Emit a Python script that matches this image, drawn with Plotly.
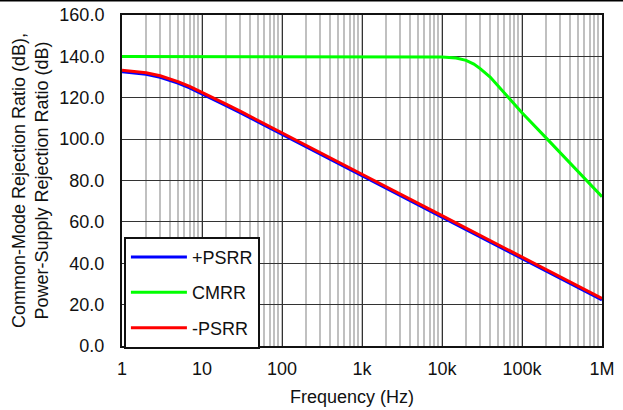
import plotly.graph_objects as go

# Frequency points (Hz)
psrr_freq = [1, 1.5, 2, 3, 4, 5, 7, 10, 15, 20, 30, 50, 100, 1e3, 1e4, 1e5, 1e6]
# Positive supply rejection (dB)
psrr_pos = [132.6, 132.1, 131.4, 129.9, 128.5, 127.1, 124.8, 122.0, 118.7, 116.2,
            112.8, 108.4, 102.3, 82.3, 62.3, 42.3, 22.3]
# Negative supply rejection (dB)
psrr_neg = [133.3, 132.8, 132.1, 130.6, 129.2, 127.8, 125.5, 122.7, 119.4, 116.9,
            113.5, 109.1, 103.0, 83.0, 63.0, 43.0, 23.0]

cmrr_freq = [1, 10, 100, 1e3, 5e3, 1e4, 1.5e4, 2e4, 2.5e4, 3e4, 4e4, 5e4, 6e4,
             7e4, 8e4, 1e5, 2e5, 5e5, 1e6]
cmrr_val = [140.0, 140.0, 140.0, 140.0, 140.0, 139.7, 139.2, 138.1, 136.3, 134.1,
            130.0, 125.7, 122.2, 119.2, 116.6, 112.7, 100.6, 84.6, 72.2]

x_tick_vals = [1, 10, 100, 1e3, 1e4, 1e5, 1e6]
x_tick_text = ["1", "10", "100", "1k", "10k", "100k", "1M"]
y_tick_vals = [0, 20, 40, 60, 80, 100, 120, 140, 160]

FONT = "Liberation Sans, Arial, sans-serif"
FS = 18

fig = go.Figure()
fig.add_trace(go.Scatter(x=psrr_freq, y=psrr_pos, mode="lines", name="+PSRR",
                         legendgroup="a", line=dict(color="#0000ff", width=3)))
fig.add_trace(go.Scatter(x=cmrr_freq, y=cmrr_val, mode="lines", name="CMRR",
                         legendgroup="b", line=dict(color="#00ff00", width=3)))
fig.add_trace(go.Scatter(x=psrr_freq, y=psrr_neg, mode="lines", name="-PSRR",
                         legendgroup="c", line=dict(color="#ff0000", width=3)))

fig.update_layout(
    width=623, height=410,
    margin=dict(l=122, r=21, t=15, b=64),
    paper_bgcolor="white", plot_bgcolor="white",
    font=dict(family=FONT, size=FS, color="#111"),
    showlegend=True,
    legend=dict(
        x=0.004, y=0.33, xanchor="left", yanchor="top",
        bgcolor="white", bordercolor="#111", borderwidth=2,
        traceorder="grouped", tracegroupgap=9,
        font=dict(family=FONT, size=FS, color="#111"),
        itemwidth=56,
    ),
    xaxis=dict(
        type="log", range=[0, 6], automargin=False,
        tickvals=x_tick_vals, ticktext=x_tick_text,
        showgrid=True, gridcolor="#333", gridwidth=1,
        minor=dict(dtick="D1", showgrid=True, gridcolor="#c0c0c0", gridwidth=2, ticks=""),
        showline=True, mirror=True, linecolor="#111", linewidth=2,
        ticks="", ticklabelstandoff=5,
        zeroline=False,
    ),
    yaxis=dict(
        range=[0, 160], tickvals=y_tick_vals, tickformat=".1f", automargin=False,
        showgrid=True, gridcolor="#333", gridwidth=1,
        showline=True, mirror=True, linecolor="#111", linewidth=2,
        ticks="", ticklabelstandoff=12,
        title=dict(text="Common-Mode Rejection Ratio (dB),<br>Power-Supply Rejection Ratio (dB)",
                   standoff=6, font=dict(size=FS)),
        zeroline=False,
    ),
    annotations=[dict(text="Frequency (Hz)", xref="paper", yref="paper",
                      x=0.479, y=-0.154, xanchor="center", yanchor="middle",
                      showarrow=False, font=dict(size=FS))],
    shapes=[dict(type="line", xref="paper", yref="paper",
                 x0=-0.26, x1=1.05, y0=1.0438, y1=1.0438,
                 line=dict(color="black", width=2))],
)

fig.write_html("out.html")
